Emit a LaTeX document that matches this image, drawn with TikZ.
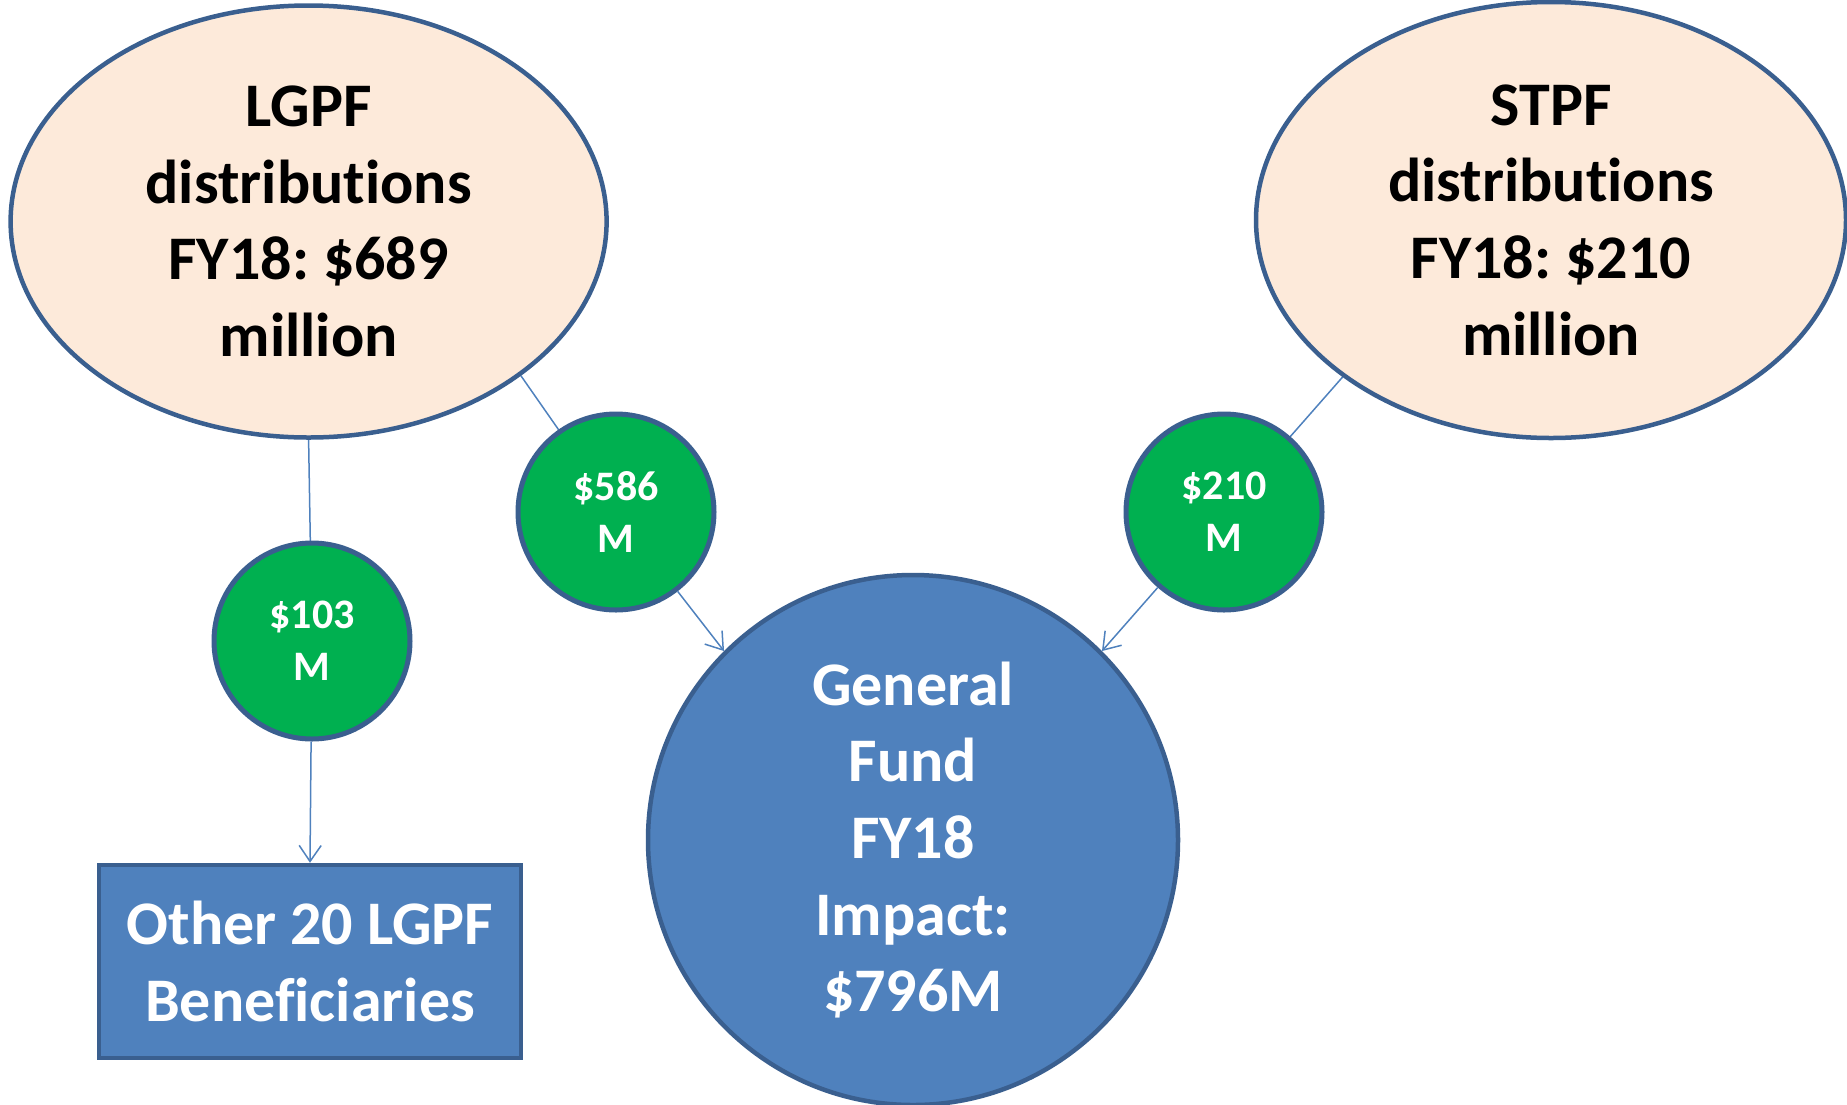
\documentclass[tikz,border=0pt]{standalone}
\usepackage{fontspec}
\setmainfont{Carlito}[Ligatures=NoCommon]
\usepackage{tikz}
\usetikzlibrary{arrows.meta, shapes.geometric, backgrounds}
\frenchspacing

\definecolor{peach}{HTML}{FDEADA}
\definecolor{rimblue}{HTML}{3A5F8F}
\definecolor{fundblue}{HTML}{4F81BD}
\definecolor{cashgreen}{HTML}{00B050}

\tikzset{
  fundellipse/.style    = {ellipse, draw=rimblue, fill=peach, line width=4.5pt,
                           inner sep=0pt, align=center, text=black,
                           font=\fontsize{62}{76.6}\selectfont\bfseries},
  amountcircle/.style   = {circle, draw=rimblue, fill=cashgreen, line width=5pt,
                           minimum size=196pt, inner sep=0pt, align=center, text=white,
                           font=\fontsize{42}{52}\selectfont\bfseries},
  impactcircle/.style   = {circle, draw=rimblue, fill=fundblue, line width=4.5pt,
                           minimum size=530pt, inner sep=0pt, align=center, text=white,
                           font=\fontsize{62}{76.6}\selectfont\bfseries},
  beneficiarybox/.style = {rectangle, draw=rimblue, fill=fundblue, line width=4.5pt,
                           minimum width=422pt, minimum height=193pt, inner sep=0pt,
                           align=center, text=white,
                           font=\fontsize{62}{77.7}\selectfont\bfseries},
  flowline/.style       = {draw=fundblue, line width=1.5pt},
  flowarrow/.style      = {flowline, -{Straight Barb[length=16pt, width=22pt]}}
}

\begin{document}
\begin{tikzpicture}[x=1pt, y=-1pt]
  \useasboundingbox (0,0) rectangle (1847,1104);

  % the two funds
  \node[fundellipse, minimum width=596pt, minimum height=432pt]
    (lgpf) at (308.6,221.5) {LGPF\\distributions\\FY18: \$689\\million};
  \node[fundellipse, minimum width=590pt, minimum height=436pt]
    (stpf) at (1551,220) {STPF\\distributions\\FY18: \$210\\million};

  % where the money goes
  \node[impactcircle] (gf) at (913,840) {General\\Fund\\FY18\\Impact:\\\$796M};
  \node[beneficiarybox] (others) at (310,961.5) {Other 20 LGPF\\Beneficiaries};

  % amounts
  \node[amountcircle] (c103) at (312,641)  {\$103\\M};
  \node[amountcircle] (c586) at (616,512)  {\$586\\M};
  \node[amountcircle] (c210) at (1224,512) {\$210\\M};

  % connectors, behind the amounts
  \begin{scope}[on background layer]
    \path[flowline] (lgpf.south) -- (c103.center);
    \path[flowline] (lgpf.-36.1) -- (c586.center);
    \path[flowline] (stpf.-143.3) -- (c210.center);
  \end{scope}
  \path[flowarrow] (c103) -- (others.north);
  \path[flowarrow] (c586) -- (gf.135);
  \path[flowarrow] (c210) -- (gf.45);
\end{tikzpicture}
\end{document}
